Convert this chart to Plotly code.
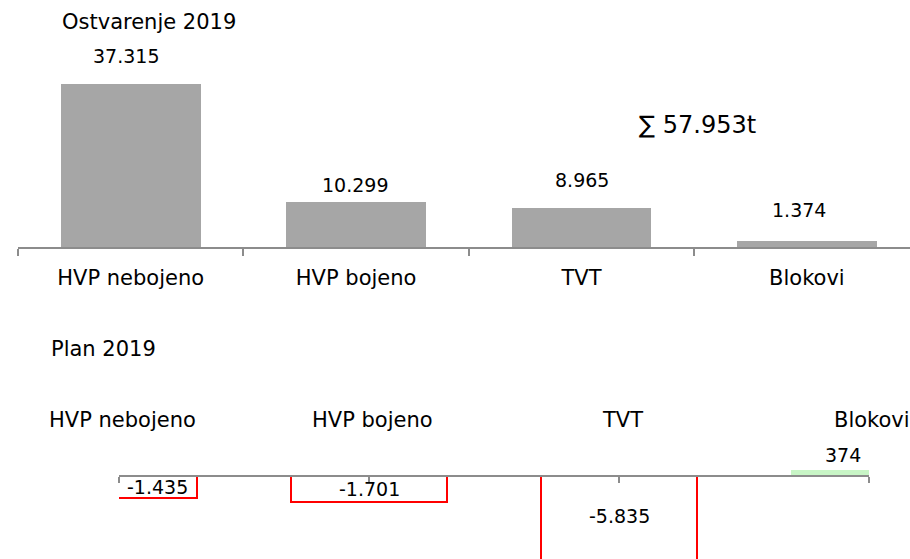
import plotly.graph_objects as go

# ---- data ----
categories = ["HVP nebojeno", "HVP bojeno", "TVT", "Blokovi"]
actual_2019 = [37315, 10299, 8965, 1374]          # Ostvarenje 2019 (t)
plan_diff_2019 = [-1435, -1701, -5835, 374]       # odstupanje od plana 2019 (t)
title_top = "Ostvarenje 2019"
title_bottom = "Plan 2019"

# ---- styling / placement ----
W, H = 910, 559
FONT = "DejaVu Sans"
GRAY_BAR = "#a6a6a6"
AXIS_GRAY = "#8c8c8c"
RED = "#ff0000"
GREEN = "#c8f5c6"
CAT_SIZE = 21
LABEL_SIZE = 19

actual_label_dx = [-5, -1, 0, -8]
actual_label_dy = [28, 17, 28, 31]
plan_label_dx = [38, 0, 0, -26]
plan_label_dy = [0, 0, 4, 15]


def fmt(v):
    return f"{v:,}".replace(",", ".")


def px_x(p):
    return p / W


def px_y(p):
    return 1 - p / H


# top subplot geometry
top_zero_px = 247
top_scale = 4.36 / 1000.0  # px per tonne
top_ymax = top_zero_px / top_scale

# bottom subplot geometry
bot_zero_px = 476
bot_top_px = 440
bot_scale = 15.2 / 1000.0
bot_ymin = -(H - bot_zero_px) / bot_scale
bot_ymax = (bot_zero_px - bot_top_px) / bot_scale

fig = go.Figure()

fig.add_trace(go.Bar(
    x=categories, y=actual_2019, xaxis="x", yaxis="y",
    marker=dict(color=GRAY_BAR, line=dict(width=0)),
    width=0.62, hoverinfo="skip",
))

plan_fill = [GREEN if v > 0 else "rgba(255,255,255,0)" for v in plan_diff_2019]
plan_line_col = [GREEN if v > 0 else RED for v in plan_diff_2019]
plan_line_w = [0 if v > 0 else 2 for v in plan_diff_2019]
fig.add_trace(go.Bar(
    x=categories, y=plan_diff_2019, xaxis="x2", yaxis="y2",
    marker=dict(color=plan_fill, line=dict(color=plan_line_col, width=plan_line_w)),
    width=0.625, hoverinfo="skip",
))

annotations = []
# top labels
for c, v, dx, dy in zip(categories, actual_2019, actual_label_dx, actual_label_dy):
    annotations.append(dict(
        x=c, y=v, xref="x", yref="y", text=fmt(v), showarrow=False,
        xshift=dx, yshift=dy, yanchor="middle", xanchor="center",
        font=dict(family=FONT, size=LABEL_SIZE, color="#000000"),
    ))
# bottom labels
for c, v, dx, dy in zip(categories, plan_diff_2019, plan_label_dx, plan_label_dy):
    yb = v / 2 if v < 0 else v
    annotations.append(dict(
        x=c, y=yb, xref="x2", yref="y2", text=fmt(v), showarrow=False,
        xshift=dx, yshift=dy, yanchor="middle", xanchor="center",
        font=dict(family=FONT, size=LABEL_SIZE, color="#000000"),
    ))
# bottom category headings
for c in categories:
    annotations.append(dict(
        x=c, y=px_y(420), xref="x2", yref="paper", text=c, showarrow=False,
        xshift=3, yanchor="middle", xanchor="center",
        font=dict(family=FONT, size=CAT_SIZE, color="#000000"),
    ))
# titles
annotations.append(dict(
    x=px_x(60), y=px_y(22), xref="paper", yref="paper", text=title_top,
    showarrow=False, xanchor="left", yanchor="middle",
    font=dict(family=FONT, size=21, color="#000000"),
))
annotations.append(dict(
    x=px_x(49), y=px_y(349), xref="paper", yref="paper", text=title_bottom,
    showarrow=False, xanchor="left", yanchor="middle",
    font=dict(family=FONT, size=21, color="#000000"),
))
# sum
annotations.append(dict(
    x=px_x(697), y=px_y(125), xref="paper", yref="paper",
    text="∑ " + fmt(sum(actual_2019)) + "t",
    showarrow=False, xanchor="center", yanchor="middle",
    font=dict(family=FONT, size=24, color="#000000"),
))

fig.update_layout(
    width=W, height=H,
    margin=dict(l=0, r=0, t=0, b=0, pad=0),
    paper_bgcolor="white", plot_bgcolor="white",
    showlegend=False,
    font=dict(family=FONT, size=19, color="#000000"),
    xaxis=dict(
        domain=[px_x(18), 1.0], anchor="y", type="category",
        categoryorder="array", categoryarray=categories,
        range=[-0.5, -0.5 + (W - 18) / 225.4],
        showline=True, linecolor=AXIS_GRAY, linewidth=2,
        ticks="outside", tickson="boundaries", ticklen=7, tickwidth=2,
        tickcolor=AXIS_GRAY, showgrid=False, zeroline=False,
        tickfont=dict(family=FONT, size=CAT_SIZE, color="#000000"),
        ticklabelstandoff=11, automargin=False, fixedrange=True,
    ),
    yaxis=dict(
        domain=[px_y(top_zero_px), 1.0], anchor="x",
        range=[0, top_ymax], visible=False, fixedrange=True,
    ),
    xaxis2=dict(
        domain=[px_x(119), px_x(869)], anchor="free",
        position=px_y(bot_zero_px), type="category",
        categoryorder="array", categoryarray=categories,
        range=[0, 3],
        showline=True, linecolor=AXIS_GRAY, linewidth=2,
        ticks="outside", ticklen=6, tickwidth=2, tickcolor=AXIS_GRAY,
        showticklabels=False, showgrid=False, zeroline=False,
        automargin=False, fixedrange=True,
    ),
    yaxis2=dict(
        domain=[0, px_y(bot_top_px)], anchor="x2",
        range=[bot_ymin, bot_ymax], visible=False, fixedrange=True,
    ),
    annotations=annotations,
    bargap=0,
)

fig.write_html(
    "out.html",
    config={"displayModeBar": False},
    post_script="document.body.style.margin='0';document.body.style.padding='0';",
)
